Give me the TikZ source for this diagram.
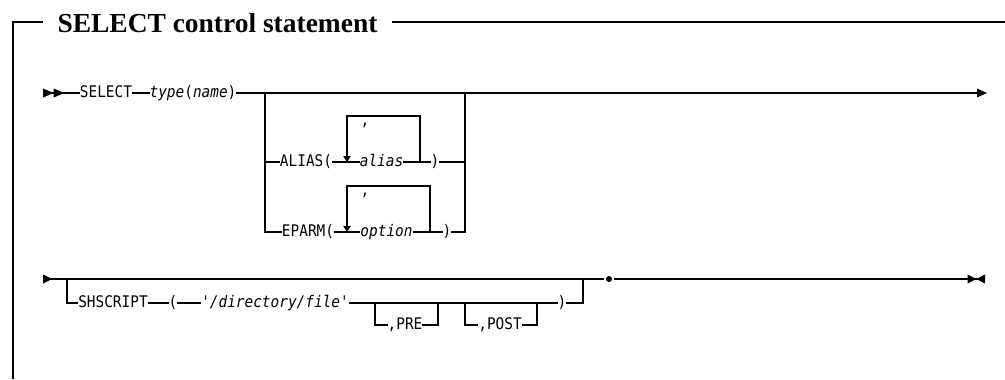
\documentclass[tikz,border=0pt]{standalone}
\usepackage{fontspec}
\usepackage{tikz}
\usetikzlibrary{positioning, arrows.meta}

\newfontfamily\diagfont{DejaVu Sans Mono}[Ligatures=TeXOff, FakeStretch=0.9]
\newfontfamily\headfont{Liberation Serif}
\newcommand\synfont{\diagfont\fontsize{12pt}{14pt}\selectfont}

\begin{document}
\begin{tikzpicture}[
    x=0.75pt, y=-0.75pt,
    line width=0.8pt,
    kw/.style={font=\synfont, inner xsep=-0.4pt, inner ysep=0pt, text height=8.3pt, text depth=2.2pt},
    var/.style={kw, font=\synfont\itshape},
    heading/.style={font=\headfont\fontsize{20.6pt}{24pt}\selectfont\bfseries, inner xsep=10.5pt, inner ysep=0pt, text height=15pt, text depth=0pt},
    stopdot/.style={circle, fill, inner sep=0pt, minimum size=4.5pt, outer sep=1.2pt},
    openmark/.style={{Triangle[reversed, length=8pt, width=6.5pt] Triangle[reversed, length=8pt, width=6.5pt]}-},
    contmark/.style={{Triangle[reversed, length=7pt, width=6.5pt]}-},
    nextmark/.style={-{Triangle[length=7.5pt, width=6.5pt]}},
    endmark/.style={-{Triangle[length=6.5pt, width=6.5pt] Triangle[reversed, length=6.5pt, width=6.5pt]}},
    repmark/.style={-{Triangle[length=4.5pt, width=5.5pt]}}
]
\useasboundingbox (0,0) rectangle (1005,379);

\node[heading, anchor=west] (title) at (43,22) {SELECT control statement};
\coordinate (frbot) at (13,379);
\coordinate (frcorner) at (13,22);
\coordinate (frend) at (1005,22);
\draw (frbot) -- (frcorner) -- (title);
\draw (title) -- (frend);

\coordinate (in1) at (43,93);
\node[kw] (sel) at (106,93) {SELECT};
\node[kw] (typ) at (193,93) {\textit{type}(\textit{name})};
\coordinate (br1) at (265,93);
\coordinate (br2) at (465,93);
\coordinate (out1) at (987,93);
\draw[openmark] (in1) -- (sel);
\draw (sel) -- (typ) -- (br1);
\draw[nextmark] (br1) -- (out1);

\node[kw] (alkw) at (306,162) {ALIAS(};
\node[var] (alvar) at (381.5,162) {alias};
\node[kw] (alend) at (435,162) {)};
\node[kw, anchor=base] (alsep) at (365,125) {,};
\coordinate (alloopl) at (347,162);
\coordinate (alloopr) at (420,162);
\coordinate (altop) at (347,116);
\draw (br1) |- (alkw) -- (alvar) -- (alend) -| (br2);
\draw[repmark] (alloopr) |- (altop) -- (alloopl);

\node[kw] (epkw) at (308,232) {EPARM(};
\node[var] (epvar) at (386.5,232) {option};
\node[kw] (epend) at (447,232) {)};
\node[kw, anchor=base] (epsep) at (365,195) {,};
\coordinate (eploopl) at (347,232);
\coordinate (eploopr) at (430,232);
\coordinate (eptop) at (347,186);
\draw (br1) |- (epkw) -- (epvar) -- (epend) -| (br2);
\draw[repmark] (eploopr) |- (eptop) -- (eploopl);

\coordinate (in2) at (43,279);
\coordinate (br3) at (67,279);
\coordinate (br4) at (583,279);
\node[stopdot] (stop) at (609,279) {};
\coordinate (out2) at (985,279);
\draw[contmark] (in2) -- (stop);
\draw[endmark] (stop) -- (out2);

\node[kw] (shkw) at (113,303) {SHSCRIPT};
\node[kw] (shopen) at (173,303) {(};
\node[var] (shfile) at (275,303) {'/directory/file'};
\node[kw] (shclose) at (562,303) {)};
\draw (br3) |- (shkw) -- (shopen) -- (shfile) -- (shclose) -| (br4);

\coordinate (pre1) at (375,303);
\coordinate (pre2) at (438,303);
\node[kw] (pre) at (405,325) {,PRE};
\draw (pre1) |- (pre) -| (pre2);

\coordinate (post1) at (465,303);
\coordinate (post2) at (537,303);
\node[kw] (post) at (500,325) {,POST};
\draw (post1) |- (post) -| (post2);
\end{tikzpicture}
\end{document}
